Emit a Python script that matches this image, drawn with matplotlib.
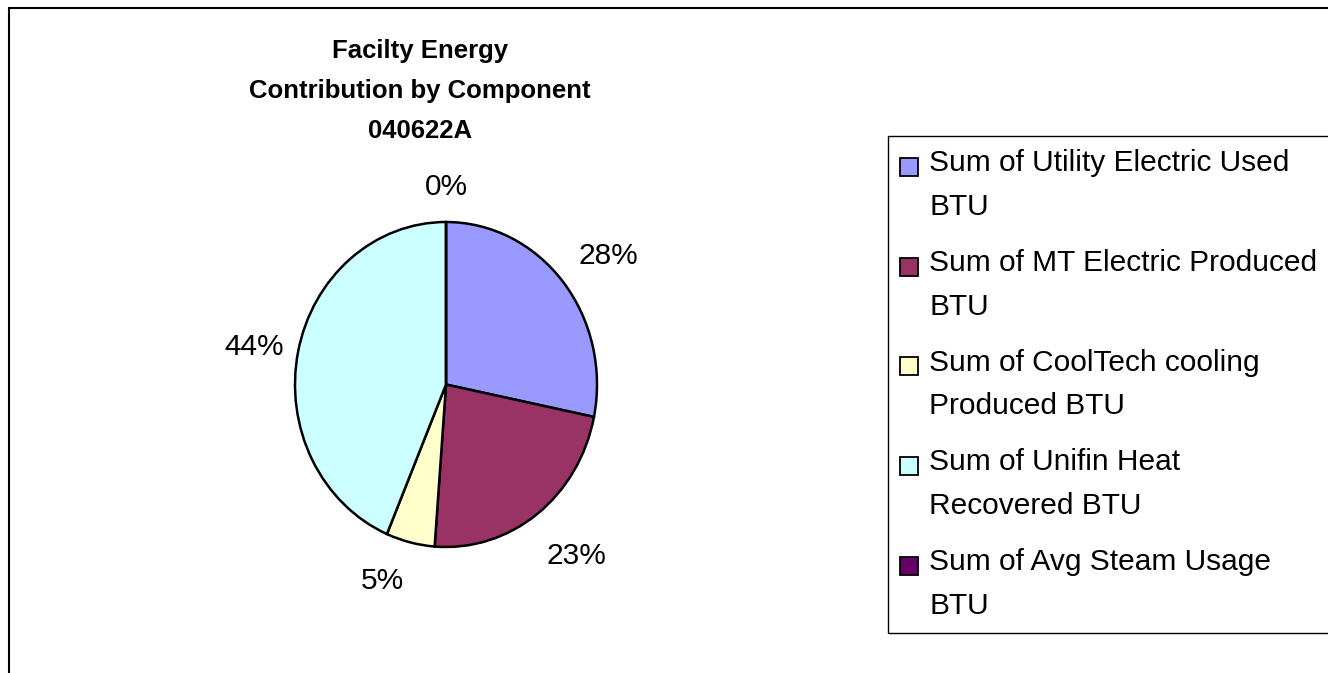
import matplotlib
matplotlib.use("Agg")
import numpy as np
import matplotlib.pyplot as plt
from matplotlib.patches import Rectangle, Patch
from matplotlib.legend_handler import HandlerPatch

plt.rcParams['font.family'] = ['Liberation Sans', 'DejaVu Sans']

# ---- data ----
title_lines = ["Facilty Energy", "Contribution by Component", "040622A"]
components = ["Sum of Utility Electric Used\nBTU",
              "Sum of MT Electric Produced\nBTU",
              "Sum of CoolTech cooling\nProduced BTU",
              "Sum of Unifin Heat\nRecovered BTU",
              "Sum of Avg Steam Usage\nBTU"]
shares = [28.2, 23.0, 5.2, 43.6, 0.0]
colors = ["#9999FF", "#993366", "#FFFFCC", "#CCFFFF", "#660066"]

# label placement relative to each wedge's mid angle (styling only)
label_dist = [1.344, 1.352, 1.264, 1.292, 1.236]
label_turn = [-2.2, 2.8, -5.9, 0.5, 0.0]

W, H = 1328, 673
fig = plt.figure(figsize=(W / 100, H / 100), dpi=100)
fig.patch.set_facecolor("white")

# outer chart frame (cropped on right/bottom)
fig.patches.append(Rectangle((9 / W, -0.05), 1.2, 1 - 8 / H + 0.05, fill=False,
                             edgecolor="black", lw=1.5, transform=fig.transFigure,
                             figure=fig))

# pie axes (slightly elliptical like the original)
px0, px1, py0, py1 = 295, 597, 222, 547
ax = fig.add_axes([px0 / W, 1 - py1 / H, (px1 - px0) / W, (py1 - py0) / H])
total = sum(shares)
pct_labels = [f"{round(v / total * 100):.0f}%" for v in shares]
wedges, texts = ax.pie(shares, colors=colors, startangle=90, counterclock=False,
                       labels=pct_labels, labeldistance=1.3,
                       wedgeprops=dict(edgecolor="black", linewidth=1.8),
                       textprops=dict(fontsize=21.5, color="black"))
for w, t, d, dt in zip(wedges, texts, label_dist, label_turn):
    ang = np.deg2rad(0.5 * (w.theta1 + w.theta2) + dt)
    t.set_position((d * np.cos(ang), d * np.sin(ang)))
    t.set_ha("center")
    t.set_va("center_baseline")
ax.set_aspect("auto")
ax.set_xlim(-1, 1)
ax.set_ylim(-1, 1)

# title
fig.text(420 / W, 1 - 39 / H, "\n".join(title_lines), ha="center", va="top",
         fontsize=18.5, fontweight="bold", linespacing=1.83,
         multialignment="center")

# legend
FS = 21.5
class TopSquare(HandlerPatch):
    def create_artists(self, legend, orig_handle, xdescent, ydescent, width,
                       height, fontsize, trans):
        s = 13.0
        r = Rectangle((-xdescent - 1, -ydescent + 14.5), s, s,
                      facecolor=orig_handle.get_facecolor(), edgecolor="black",
                      lw=1.3, transform=trans)
        return [r]

handles = [Patch(facecolor=c, edgecolor="black") for c in colors]
leg = fig.legend(handles, components, loc="upper left",
                 bbox_to_anchor=(888 / W, 1 - 136 / H), borderaxespad=0,
                 fontsize=FS, frameon=True, fancybox=False, edgecolor="black",
                 framealpha=1, borderpad=0.45, handlelength=0.6, handleheight=0.7,
                 handletextpad=0.33, labelspacing=0.93,
                 handler_map={Patch: TopSquare()})
leg.get_frame().set_linewidth(1.0)
for t in leg.get_texts():
    t.set_linespacing(1.72)

fig.savefig("out.png", dpi=100, facecolor="white")
